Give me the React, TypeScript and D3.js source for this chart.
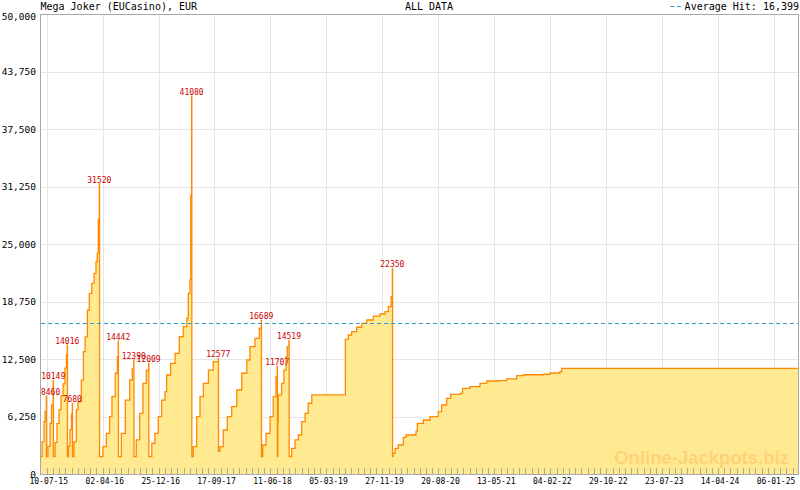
import React, { useRef, useEffect } from "react"
import * as d3 from "d3"

const TITLE = "Mega Joker (EUCasino), EUR"
const SUBTITLE = "ALL DATA"
const AVERAGE_HIT = 16399
const WATERMARK = "Online-Jackpots.biz"

// jackpot level over time (one row per change, resets after each hit)
const dates: string[] = [
  // 1
  "2015-06-08", "2015-06-18", "2015-06-27", "2015-07-02", "2015-07-08",
  // 2
  "2015-07-09", "2015-07-16", "2015-07-26", "2015-08-02", "2015-08-10",
  // 3
  "2015-08-11", "2015-08-19", "2015-08-28", "2015-09-07", "2015-09-16", "2015-09-26", "2015-10-05", "2015-10-12", "2015-10-16",
  // 4
  "2015-10-17", "2015-10-22", "2015-10-29", "2015-11-05", "2015-11-09",
  // 5
  "2015-11-10", "2015-11-17", "2015-11-28", "2015-12-06", "2015-12-22", "2016-01-01", "2016-01-09", "2016-01-20",
  "2016-01-29", "2016-02-10", "2016-02-21", "2016-03-01", "2016-03-07", "2016-03-12", "2016-03-17",
  // 6
  "2016-03-18", "2016-04-03", "2016-04-19", "2016-05-05", "2016-05-16", "2016-06-01", "2016-06-11", "2016-06-15",
  // 7
  "2016-06-16", "2016-06-30", "2016-07-19", "2016-08-09", "2016-08-21", "2016-08-28",
  // 8
  "2016-08-29", "2016-09-09", "2016-09-25", "2016-10-11", "2016-10-27", "2016-11-07",
  // 9
  "2016-11-08", "2016-11-22", "2016-12-07", "2016-12-23", "2017-01-08", "2017-01-24", "2017-02-01", "2017-02-20",
  "2017-03-13", "2017-04-02", "2017-04-21", "2017-05-08", "2017-05-15", "2017-05-23", "2017-05-27", "2017-05-31",
  // 10
  "2017-06-01", "2017-06-08", "2017-06-24", "2017-07-10", "2017-07-26", "2017-08-19", "2017-09-11", "2017-10-05",
  // 11
  "2017-10-06", "2017-10-13", "2017-10-29", "2017-11-17", "2017-12-08", "2018-01-01", "2018-01-25", "2018-02-18",
  "2018-03-05", "2018-03-29", "2018-04-19", "2018-04-28",
  // 12
  "2018-04-29", "2018-05-05", "2018-05-21", "2018-06-09", "2018-06-24", "2018-07-07", "2018-07-13",
  // 13
  "2018-07-14", "2018-07-16", "2018-07-18", "2018-08-03", "2018-08-14", "2018-08-24", "2018-08-30", "2018-09-07",
  // 14
  "2018-09-08", "2018-09-20", "2018-10-06", "2018-10-22", "2018-11-07", "2018-11-23", "2018-12-08", "2018-12-25",
  "2019-06-03", "2019-06-17", "2019-07-03", "2019-07-27", "2019-08-20", "2019-09-13", "2019-10-14", "2019-11-15",
  "2019-12-09", "2019-12-25", "2020-01-07", "2020-01-13",
  // 15
  "2020-01-14", "2020-01-16", "2020-01-26", "2020-02-10", "2020-03-05", "2020-03-18", "2020-05-05", "2020-05-11",
  "2020-06-09", "2020-07-11", "2020-08-19", "2020-09-04", "2020-09-28", "2020-10-17", "2020-12-01", "2020-12-13",
  "2021-01-17", "2021-03-06", "2021-04-07", "2021-06-01", "2021-07-11", "2021-08-28", "2021-09-28", "2022-01-02",
  "2022-02-03", "2022-03-22", "2022-03-31", "2025-05-05",
]

const values: number[] = [
  // 1
  1900, 3500, 5700, 6800, 8460,
  // 2
  1900, 3000, 5500, 7500, 10149,
  // 3
  1900, 3400, 5500, 7000, 8500, 9800, 11500, 13000, 14016,
  // 4
  1900, 3000, 4800, 6500, 7680,
  // 5
  1900, 3500, 6960, 7860, 10200, 13300, 14900, 17800,
  19640, 20730, 21800, 23080, 24000, 27690, 31520,
  // 6
  1900, 2970, 4420, 6230, 8400, 10950, 12750, 14442,
  // 7
  1900, 4420, 8040, 10220, 11490, 12390,
  // 8
  1900, 3700, 6600, 9860, 11300, 12009,
  // 9
  1900, 3340, 4420, 6230, 8040, 8950, 10760, 12030,
  13120, 14920, 16010, 16920, 19640, 21090, 30330, 41080,
  // 10
  1900, 2970, 6230, 8400, 9860, 11300, 12210, 12577,
  // 11
  2500, 2970, 4780, 6230, 7320, 9130, 10950, 12390,
  13840, 14750, 15840, 16689,
  // 12
  1900, 3150, 4420, 6230, 8400, 10580, 11707,
  // 13
  1900, 5700, 8600, 9860, 11300, 12750, 13840, 14519,
  // 14
  1900, 2790, 3700, 4240, 5690, 6600, 7690, 8600,
  14640, 15110, 15470, 15950, 16380, 16740, 17170, 17390,
  17640, 18190, 19270, 22350,
  // 15
  1900, 2250, 2790, 3150, 3990, 4240, 4670, 5510,
  5870, 6230, 6770, 7500, 8230, 8660, 8770, 9310,
  9490, 9860, 10110, 10140, 10330, 10690, 10790, 10840,
  10980, 11120, 11490, 11490,
]

const xTickLabels = [
  "10-07-15", "02-04-16", "25-12-16", "17-09-17", "11-06-18", "05-03-19", "27-11-19",
  "20-08-20", "13-05-21", "04-02-22", "29-10-22", "23-07-23", "14-04-24", "06-01-25",
]
const yTicks = [0, 6250, 12500, 18750, 25000, 31250, 37500, 43750, 50000]

const X_START = "2015-06-08"
const X_END = "2025-05-05"

const W = 800
const H = 490
const PLOT = { left: 40, right: 799, top: 14, bottom: 474 }
const MONO = "'DejaVu Sans Mono', monospace"
const AVG_COLOR = "#2e9fd4"

export default function App() {
  const svgRef = useRef<SVGSVGElement>(null)

  useEffect(() => {
    const svg = svgRef.current
    if (!svg) return
    const root = d3.select(svg)
    root.selectAll("*").remove()

    const parse = d3.timeParse("%Y-%m-%d")
    const parseTick = d3.timeParse("%d-%m-%y")
    const rows = dates.map((d, i) => ({ date: parse(d) as Date, value: values[i] }))
    const tickDates = xTickLabels.map((t) => parseTick(t) as Date)

    const x = d3.scaleTime()
      .domain([parse(X_START) as Date, parse(X_END) as Date])
      .range([PLOT.left, PLOT.right])
    const y = d3.scaleLinear().domain([0, 50000]).range([PLOT.bottom, PLOT.top])

    root.append("rect").attr("width", W).attr("height", H).attr("fill", "#ffffff")

    // Grid
    root.append("g").attr("shape-rendering", "crispEdges")
      .selectAll("line").data(yTicks.slice(1, -1)).join("line")
      .attr("x1", PLOT.left).attr("x2", PLOT.right)
      .attr("y1", (d) => Math.round(y(d)) + 0.5).attr("y2", (d) => Math.round(y(d)) + 0.5)
      .attr("stroke", "#e6e6e6").attr("stroke-width", 1)

    root.append("g").attr("shape-rendering", "crispEdges")
      .selectAll("line").data(tickDates).join("line")
      .attr("x1", (d) => Math.round(x(d)) + 0.5).attr("x2", (d) => Math.round(x(d)) + 0.5)
      .attr("y1", PLOT.top).attr("y2", PLOT.bottom)
      .attr("stroke", "#e6e6e6").attr("stroke-width", 1)

    // Area + line
    const area = d3.area<typeof rows[0]>()
      .x((d) => x(d.date)).y0(y(0)).y1((d) => y(d.value))
      .curve(d3.curveStepAfter)
    root.append("path").datum(rows)
      .attr("fill", "#ffea91").attr("d", area)

    // watermark
    root.append("text")
      .attr("x", 789).attr("y", 464).attr("text-anchor", "end")
      .attr("font-family", "'Liberation Sans', Arial, sans-serif").attr("font-weight", "bold")
      .attr("font-size", 18.5).attr("fill", "#fcd27a")
      .text(WATERMARK)

    const line = d3.line<typeof rows[0]>()
      .x((d) => x(d.date)).y((d) => y(d.value))
      .curve(d3.curveStepAfter)
    root.append("path").datum(rows)
      .attr("fill", "none").attr("stroke", "#ff8a00")
      .attr("stroke-width", 1.3).attr("d", line)

    // Average line
    const avgY = Math.round(y(AVERAGE_HIT)) + 0.5
    root.append("line")
      .attr("x1", PLOT.left + 1).attr("x2", PLOT.right).attr("y1", avgY).attr("y2", avgY)
      .attr("shape-rendering", "crispEdges")
      .attr("stroke", AVG_COLOR).attr("stroke-width", 1).attr("stroke-dasharray", "4,3")

    // Peak labels (value just before each reset)
    const peaks = rows.filter((d, i) => i < rows.length - 1 && rows[i + 1].value < d.value - 1000)
    root.append("g").selectAll("text").data(peaks).join("text")
      .attr("x", (d) => {
        const half = (String(d.value).length * 4.8) / 2
        return Math.max(x(d.date), PLOT.left + 1 + half)
      })
      .attr("y", (d) => y(d.value) - 1.5)
      .attr("text-anchor", "middle")
      .attr("font-family", MONO).attr("font-size", 8).attr("fill", "#cc0000")
      .text((d) => String(d.value))

    // Minor ticks along the bottom
    const step = 267 / 9
    const minor: Date[] = []
    for (let i = -1; i < tickDates.length; i++) {
      const base = i < 0 ? d3.timeDay.offset(tickDates[0], -267) : tickDates[i]
      for (let j = 0; j < 9; j++) {
        const d = d3.timeDay.offset(base, Math.round(j * step))
        const px = x(d)
        if (px > PLOT.left + 1 && px < PLOT.right - 1) minor.push(d)
      }
    }
    root.append("g").attr("shape-rendering", "crispEdges")
      .selectAll("line").data(minor).join("line")
      .attr("x1", (d) => Math.round(x(d)) + 0.5).attr("x2", (d) => Math.round(x(d)) + 0.5)
      .attr("y1", PLOT.bottom - 6).attr("y2", PLOT.bottom)
      .attr("stroke", "#a8a8a8").attr("stroke-width", 1)

    // Frame
    root.append("rect")
      .attr("shape-rendering", "crispEdges")
      .attr("x", PLOT.left + 0.5).attr("y", PLOT.top + 0.5)
      .attr("width", PLOT.right - PLOT.left - 1).attr("height", PLOT.bottom - PLOT.top)
      .attr("fill", "none").attr("stroke", "#a8a8a8").attr("stroke-width", 1)

    // Y labels
    root.append("g").selectAll("text").data(yTicks).join("text")
      .attr("x", 36).attr("y", (d) => (d === 50000 ? 19.5 : y(d) + 3.5))
      .attr("text-anchor", "end")
      .attr("font-family", MONO).attr("font-size", 9.5).attr("fill", "#000")
      .text((d) => d3.format(",")(d))

    // X labels
    root.append("g").selectAll("text").data(tickDates).join("text")
      .attr("x", (d) => x(d) + 2).attr("y", 483.5)
      .attr("text-anchor", "middle")
      .attr("font-family", MONO).attr("font-size", 8).attr("fill", "#000")
      .text((d, i) => xTickLabels[i])

    // Header
    root.append("text")
      .attr("x", 40.5).attr("y", 10)
      .attr("font-family", MONO).attr("font-size", 10).attr("fill", "#000")
      .text(TITLE)
    root.append("text")
      .attr("x", 429).attr("y", 10).attr("text-anchor", "middle")
      .attr("font-family", MONO).attr("font-size", 10).attr("fill", "#000")
      .text(SUBTITLE)
    root.append("line")
      .attr("x1", 670).attr("x2", 684).attr("y1", 6.5).attr("y2", 6.5)
      .attr("shape-rendering", "crispEdges")
      .attr("stroke", AVG_COLOR).attr("stroke-width", 1).attr("stroke-dasharray", "4,3")
    root.append("text")
      .attr("x", 799).attr("y", 10).attr("text-anchor", "end")
      .attr("font-family", MONO).attr("font-size", 10).attr("fill", "#000")
      .text(`Average Hit: ${d3.format(",")(AVERAGE_HIT)}`)
  }, [])

  return (
    <div style={{ position: "absolute", left: 0, top: 0, width: W, height: H }}>
      <svg ref={svgRef} width={W} height={H} style={{ display: "block" }} />
    </div>
  )
}
